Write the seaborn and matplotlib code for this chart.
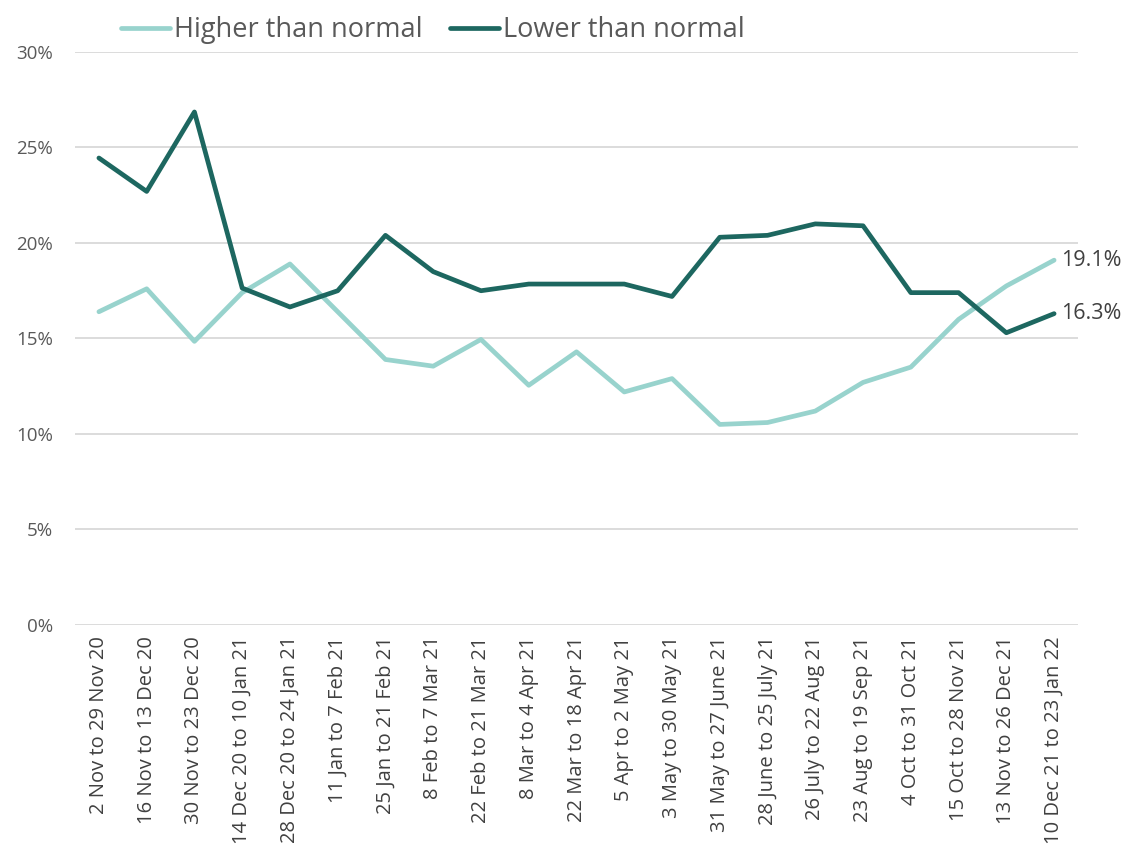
import matplotlib
matplotlib.use("Agg")
import matplotlib.pyplot as plt
import pandas as pd
import seaborn as sns

periods = ["2 Nov to 29 Nov 20", "16 Nov to 13 Dec 20", "30 Nov to 23 Dec 20",
           "14 Dec 20 to 10 Jan 21", "28 Dec 20 to 24 Jan 21", "11 Jan to 7 Feb 21",
           "25 Jan to 21 Feb 21", "8 Feb to 7 Mar 21", "22 Feb to 21 Mar 21",
           "8 Mar to 4 Apr 21", "22 Mar to 18 Apr 21", "5 Apr to 2 May 21",
           "3 May to 30 May 21", "31 May to 27 June 21", "28 June to 25 July 21",
           "26 July to 22 Aug 21", "23 Aug to 19 Sep 21", "4 Oct to 31 Oct 21",
           "15 Oct to 28 Nov 21", "13 Nov to 26 Dec 21", "10 Dec 21 to 23 Jan 22"]

higher = [16.4, 17.6, 14.85, 17.4, 18.9, 16.4, 13.9, 13.55, 14.95, 12.55, 14.3,
          12.2, 12.9, 10.5, 10.6, 11.2, 12.7, 13.5, 16.0, 17.75, 19.1]
lower = [24.45, 22.7, 26.86, 17.64, 16.65, 17.5, 20.4, 18.5, 17.5, 17.85, 17.85,
         17.85, 17.2, 20.3, 20.4, 21.0, 20.9, 17.4, 17.4, 15.3, 16.3]

series = ["Higher than normal", "Lower than normal"]
colors = ["#98d3cd", "#1d6760"]

df = pd.DataFrame({
    "period": periods * 2,
    "value": higher + lower,
    "series": [series[0]] * len(periods) + [series[1]] * len(periods),
})
df["x"] = list(range(len(periods))) * 2

sns.set_style("white")
plt.rcParams["font.family"] = ["Open Sans", "DejaVu Sans"]

fig = plt.figure(figsize=(11.25, 8.58), dpi=100)
ax = fig.add_axes([0.0667, 0.2716, 0.8915, 0.6678])

sns.lineplot(data=df, x="x", y="value", hue="series", palette=colors,
             linewidth=3.4, ax=ax, sort=False)

ax.set_xlim(-0.5, len(periods) - 0.5)
ax.set_ylim(0, 30)
ax.set_yticks(range(0, 31, 5))
ax.set_yticklabels([f"{v}%" for v in range(0, 31, 5)], fontsize=13.5, color="#595959")
ax.set_xticks(range(len(periods)))
ax.set_xticklabels(periods, rotation=90, fontsize=14.5, color="#404040")
ax.tick_params(axis="y", length=0, pad=16)
ax.tick_params(axis="x", length=0, pad=8)
ax.grid(axis="y", color="#d9d9d9", linewidth=1.3)
ax.set_axisbelow(True)
for s in ax.spines.values():
    s.set_visible(False)
ax.set_xlabel("")
ax.set_ylabel("")

last = len(periods) - 1
ax.text(last + 0.15, higher[-1], f"{higher[-1]:.1f}%", fontsize=15.5,
        color="#404040", va="center")
ax.text(last + 0.15, lower[-1], f"{lower[-1]:.1f}%", fontsize=15.5,
        color="#404040", va="center")

leg = ax.legend(loc="lower left", bbox_to_anchor=(0.03, 0.985), ncol=2,
                frameon=False, fontsize=19.5, handlelength=1.8, handletextpad=0.15,
                columnspacing=1.0, labelcolor="#595959", borderpad=0.1)
for line in leg.get_lines():
    line.set_linewidth(3.4)

fig.savefig("out.png", dpi=100)
